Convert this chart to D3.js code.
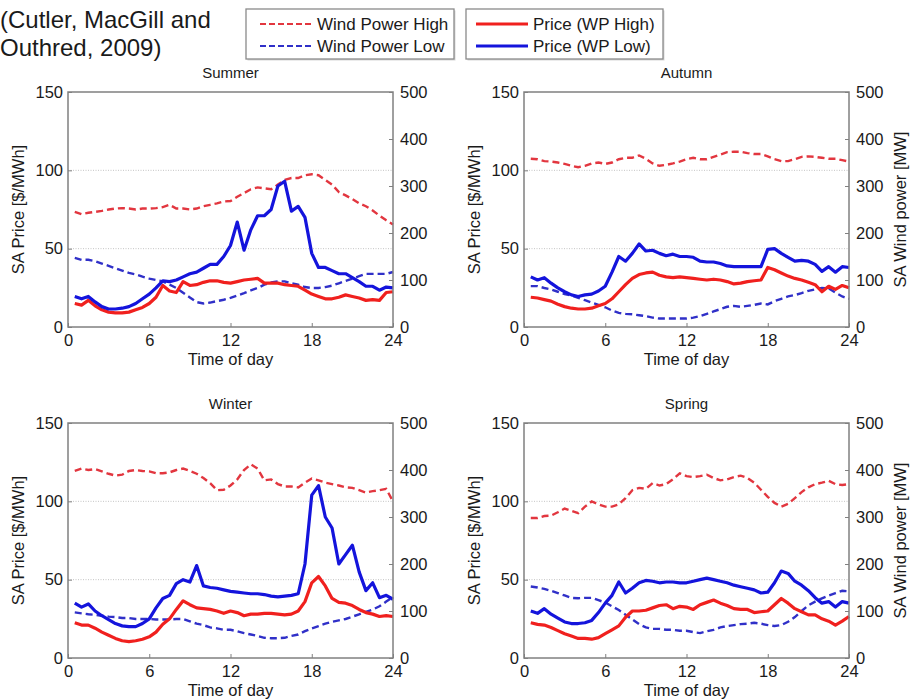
<!DOCTYPE html>
<html>
<head>
<meta charset="utf-8">
<script src="https://cdn.jsdelivr.net/npm/d3@7"></script>
<style>
  body { margin: 0; background: #fff; }
  svg { font-family: "Liberation Sans", Arial, sans-serif; }
</style>
</head>
<body>
<svg width="912" height="699"></svg>
<script>

// half-hourly time of day
var hours = [0.5,1,1.5,2,2.5,3,3.5,4,4.5,5,5.5,6,6.5,7,7.5,8,8.5,9,9.5,10,10.5,11,11.5,12,
	12.5,13,13.5,14,14.5,15,15.5,16,16.5,17,17.5,18,18.5,19,19.5,20,20.5,21,21.5,22,22.5,23,23.5,24];

var xTicks = [0, 6, 12, 18, 24];
var priceTicks = [0, 50, 100, 150];
var windTicks = [0, 100, 200, 300, 400, 500];

// wind power in MW, price in $/MWh
var summerWindHigh = [245,240,243,245,247,250,252,253,252,250,252,252,253,255,260,252,252,250,252,257,260,263,267,268,
	277,285,293,297,295,293,303,313,317,317,323,325,323,313,303,287,280,272,263,257,248,237,227,218];
var summerWindLow = [147,143,143,140,135,130,125,120,115,112,107,103,100,97,90,83,73,63,53,50,52,55,58,62,
	67,72,78,83,90,95,97,97,93,90,85,83,83,85,88,93,98,103,108,113,113,113,113,117];
var summerPriceHigh = [15,14,17,13.5,11,9.5,9,9,9.5,11,12.5,15,19,26.5,23,22,29,26.5,27,28.5,29.5,29.5,28.5,28,
	29,30,30.5,31,28,28,28,27,26.5,26,23.5,21,19.5,18,18,19,20.5,19.5,18.5,17,17.5,17,22,22.5];
var summerPriceLow = [19.5,18,19.5,16,13,11.5,11.5,12,13,15,18,21,25,29.5,29,30,32,34,35,37.5,40,40,45,52,
	67,49,62,71,71,75,90,93,74,77,70,47,38,38,36,34,34,31.5,29,26,26,23.5,25.5,25];

var autumnWindHigh = [358,357,353,352,350,347,343,340,343,348,350,347,350,357,360,360,365,358,348,343,345,348,352,357,
	360,357,357,362,367,372,373,373,370,368,368,363,357,353,353,357,362,363,362,360,358,358,355,352];
var autumnWindLow = [87,87,83,80,75,70,67,62,57,52,47,42,35,30,28,27,25,23,20,18,18,18,18,18,
	20,23,28,33,38,43,45,43,45,47,50,48,55,60,65,68,72,77,80,83,82,73,65,60];
var autumnPriceHigh = [19,18.5,17.5,16.5,14.5,13,12,11.5,11.5,12,13.5,15,18,22.5,27,31,33.5,34.5,35,33,32,31.5,32,31.5,
	31,30.5,30,30.5,30,29,27.5,28,29,29.5,30,38,36.5,34.5,32.5,31,30,28.5,27,22.5,26,24,26.5,25];
var autumnPriceLow = [32,30,31.5,28,25,22.5,20.5,19.5,20.5,21,23,26,35,45,42,47,53,48.5,49,47,45.5,46.5,45,45,
	44.5,42,41.5,41.5,40.5,39,38.5,38.5,38.5,38.5,38.5,49.5,50,47,44.5,42,42.5,42,40,35.5,38.5,35,38.5,38];

var winterWindHigh = [398,403,400,402,397,392,388,390,398,400,398,397,393,393,395,400,403,398,392,383,372,357,358,367,
	380,400,412,403,378,380,370,365,365,363,373,382,378,373,370,367,363,362,357,352,355,357,360,333];
var winterWindLow = [97,95,93,92,90,88,87,85,85,83,83,83,82,82,82,83,83,78,73,70,65,63,60,60,
	57,53,50,47,43,42,42,43,47,50,57,63,68,73,77,80,83,88,93,98,103,110,120,130];
var winterPriceHigh = [22.5,21,21,19,16.5,14.5,12.5,11,10.5,11,12,13.5,16.5,21.5,25,31,36.5,34,32,31.5,31,30,28.5,30,
	29,27,28,28,28.5,28.5,28,27.5,28,30,36,48,52,46,38,35.5,35,33.5,31,29,28,26.5,27,26.5];
var winterPriceLow = [35,32.5,34.5,30,27,24.5,22,20.5,20,20,22,25,32,38,40,47.5,50,48.5,59,46,45,44.5,43.5,42.5,
	42,41.5,41,41,40.5,39.5,39,39.5,40,41,60,104,110,90,83,60,66,72,55,43,48,38.5,40,37.5];

var springWindHigh = [298,298,302,303,310,318,313,308,322,333,327,322,322,327,340,357,362,360,372,367,370,380,393,387,
	385,387,390,383,378,380,385,388,383,373,358,343,330,322,328,340,353,363,370,373,377,370,368,370];
var springWindLow = [152,150,147,143,138,133,128,127,128,128,123,118,110,102,92,82,72,65,62,62,60,60,58,58,
	55,53,57,60,65,68,70,72,73,75,73,70,68,70,77,87,100,112,120,127,133,138,143,142];
var springPriceHigh = [22.5,21.5,21,19.5,17.5,15.5,14,12.5,12.5,12,13,15.5,18,20.5,26,30,30,30.5,32,33.5,34,31.5,33,32.5,
	31,34,35.5,37,35,33.5,31.5,31,31,29,29.5,30,34,38,35,31.5,29.5,27.5,27.5,25,23.5,21,23.5,26.5];
var springPriceLow = [30,28.5,31.5,28,25.5,23,22,22,22.5,24,29,35,40,48.5,41.5,44.5,48,49.5,49,48,48.5,48.5,48,48,
	49,50,51,50,49,48,46.5,45.5,44.5,43.5,41.5,42,48,55.5,54,49,46.5,43,38.5,35,36,32.5,36,35];

var red = "#f0201e",
	redDash = "#e2363f",
	blue = "#1414dc",
	blueDash = "#3030c8",
	axisGrey = "#808080",
	textColor = "#1a1a1a";

var pw = 325, ph = 235;

var svg = d3.select("svg");

// citation
var cite = svg.append("text")
	.attr("font-size", 24)
	.attr("fill", textColor);
cite.append("tspan").attr("x", 0).attr("y", 28).text("(Cutler, MacGill and");
cite.append("tspan").attr("x", 0).attr("y", 56).text("Outhred, 2009)");

// legends
function legendBox(x0, width, lineX, lineLen, items){
	var g = svg.append("g").attr("transform", "translate(" + x0 + ",9)");
	g.append("rect")
		.attr("x", 1.5).attr("y", 1.5)
		.attr("width", width).attr("height", 50)
		.attr("fill", "#d8d8d8");
	g.append("rect")
		.attr("width", width).attr("height", 50)
		.attr("fill", "#fff")
		.attr("stroke", "#8a8a8a")
		.attr("stroke-width", 1.3);
	items.forEach(function (d, i){
		var yy = 15 + i * 22;
		g.append("line")
			.attr("x1", lineX).attr("x2", lineX + lineLen)
			.attr("y1", yy).attr("y2", yy)
			.attr("stroke", d.color)
			.attr("stroke-width", d.dash ? 2.2 : 3)
			.attr("stroke-dasharray", d.dash ? "6,3" : null);
		g.append("text")
			.attr("x", lineX + lineLen + 5)
			.attr("y", yy + 6)
			.attr("font-size", 17)
			.attr("fill", textColor)
			.text(d.label);
	});
}
legendBox(246, 208, 14, 52, [
	{label: "Wind Power High", color: redDash, dash: true},
	{label: "Wind Power Low", color: blueDash, dash: true}
]);
legendBox(466, 197, 10, 52, [
	{label: "Price (WP High)", color: red, dash: false},
	{label: "Price (WP Low)", color: blue, dash: false}
]);

var panels = [
	{title: "Summer", left: 68, top: 92, windHigh: summerWindHigh, windLow: summerWindLow, priceHigh: summerPriceHigh, priceLow: summerPriceLow, rightLabel: false},
	{title: "Autumn", left: 524, top: 92, windHigh: autumnWindHigh, windLow: autumnWindLow, priceHigh: autumnPriceHigh, priceLow: autumnPriceLow, rightLabel: true},
	{title: "Winter", left: 68, top: 423, windHigh: winterWindHigh, windLow: winterWindLow, priceHigh: winterPriceHigh, priceLow: winterPriceLow, rightLabel: false},
	{title: "Spring", left: 524, top: 423, windHigh: springWindHigh, windLow: springWindLow, priceHigh: springPriceHigh, priceLow: springPriceLow, rightLabel: true}
];

var x = d3.scaleLinear().domain([0, 24]).range([0, pw]);
var yL = d3.scaleLinear().domain([0, 150]).range([ph, 0]);
var yR = d3.scaleLinear().domain([0, 500]).range([ph, 0]);

panels.forEach(function (p){
	var g = svg.append("g").attr("transform", "translate(" + p.left + "," + p.top + ")");

	// grid
	g.selectAll(".grid").data([50, 100])
		.enter().append("line")
			.attr("x1", 0).attr("x2", pw)
			.attr("y1", function (d){ return yL(d); })
			.attr("y2", function (d){ return yL(d); })
			.attr("stroke", "#c4c4c4")
			.attr("stroke-width", 1)
			.attr("stroke-dasharray", "1,1.5");

	var lineL = d3.line()
		.x(function (d, i){ return x(hours[i]); })
		.y(function (d){ return yL(d); });
	var lineR = d3.line()
		.x(function (d, i){ return x(hours[i]); })
		.y(function (d){ return yR(d); });

	g.append("path").datum(p.windLow)
		.attr("d", lineR).attr("fill", "none")
		.attr("stroke", blueDash).attr("stroke-width", 2.4)
		.attr("stroke-dasharray", "7,4");
	g.append("path").datum(p.windHigh)
		.attr("d", lineR).attr("fill", "none")
		.attr("stroke", redDash).attr("stroke-width", 2.4)
		.attr("stroke-dasharray", "7,4");
	g.append("path").datum(p.priceHigh)
		.attr("d", lineL).attr("fill", "none")
		.attr("stroke", red).attr("stroke-width", 3.2)
		.attr("stroke-linejoin", "round");
	g.append("path").datum(p.priceLow)
		.attr("d", lineL).attr("fill", "none")
		.attr("stroke", blue).attr("stroke-width", 3.2)
		.attr("stroke-linejoin", "round");

	// axes
	var ax = g.append("g").attr("transform", "translate(0," + ph + ")")
		.call(d3.axisBottom(x).tickValues(xTicks).tickSizeInner(-4).tickSizeOuter(0).tickPadding(5));
	var al = g.append("g")
		.call(d3.axisLeft(yL).tickValues(priceTicks).tickSizeInner(-4).tickSizeOuter(0).tickPadding(5));
	var ar = g.append("g").attr("transform", "translate(" + pw + ",0)")
		.call(d3.axisRight(yR).tickValues(windTicks).tickSizeInner(-4).tickSizeOuter(0).tickPadding(7));

	[ax, al, ar].forEach(function (a){
		a.select(".domain").remove();
		a.selectAll(".tick line").attr("stroke", axisGrey);
		a.selectAll(".tick text")
			.attr("font-size", 16.5)
			.attr("font-family", "'Liberation Sans', Arial, sans-serif")
			.attr("fill", textColor);
	});
	ax.selectAll(".tick text").attr("dy", "0.85em");

	g.append("rect")
		.attr("width", pw).attr("height", ph)
		.attr("fill", "none")
		.attr("stroke", axisGrey)
		.attr("stroke-width", 1.5);

	g.append("text")
		.attr("x", pw / 2).attr("y", -14)
		.attr("text-anchor", "middle")
		.attr("font-size", 15)
		.attr("fill", textColor)
		.text(p.title);

	g.append("text")
		.attr("x", pw / 2).attr("y", ph + 38)
		.attr("text-anchor", "middle")
		.attr("font-size", 16.5)
		.attr("fill", textColor)
		.text("Time of day");

	g.append("text")
		.attr("transform", "translate(-44," + (ph / 2) + ") rotate(-90)")
		.attr("text-anchor", "middle")
		.attr("font-size", 16.5)
		.attr("fill", textColor)
		.text("SA Price [$/MWh]");

	if (p.rightLabel){
		g.append("text")
			.attr("transform", "translate(" + (pw + 57) + "," + (ph / 2) + ") rotate(-90)")
			.attr("text-anchor", "middle")
			.attr("font-size", 16.5)
			.attr("fill", textColor)
			.text("SA Wind power [MW]");
	}
});

</script>
</body>
</html>
